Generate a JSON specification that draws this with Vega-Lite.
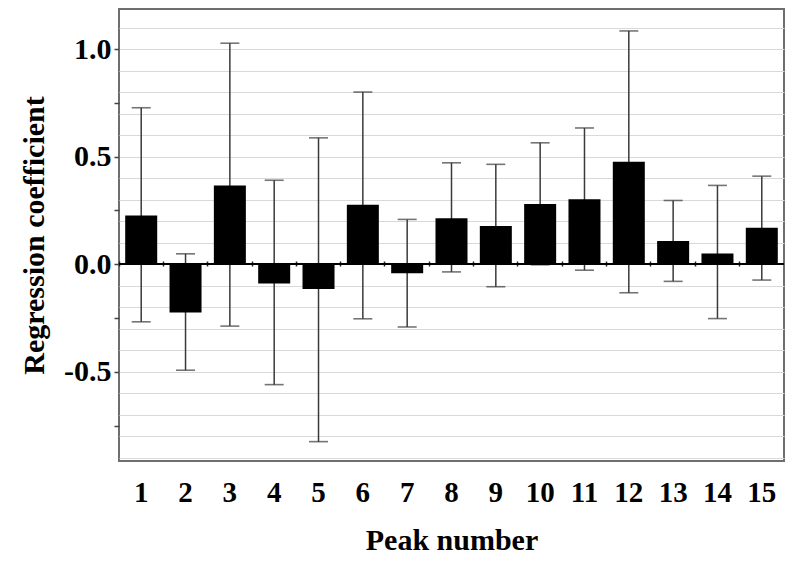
{
  "$schema": "https://vega.github.io/schema/vega-lite/v6.json",
  "width": 665,
  "height": 452,
  "autosize": {"type": "none"},
  "padding": {"left": 119, "top": 9, "right": 16, "bottom": 110},
  "background": "white",
  "config": {
    "view": {"stroke": "#6e6e6e", "strokeWidth": 2},
    "font": "Liberation Serif"
  },
  "data": {
    "values": [
      {"peak": "1", "coef": 0.226, "lo": -0.268, "hi": 0.727},
      {"peak": "2", "coef": -0.225, "lo": -0.493, "hi": 0.048},
      {"peak": "3", "coef": 0.366, "lo": -0.288, "hi": 1.027},
      {"peak": "4", "coef": -0.09, "lo": -0.56, "hi": 0.39},
      {"peak": "5", "coef": -0.116, "lo": -0.825, "hi": 0.587},
      {"peak": "6", "coef": 0.276, "lo": -0.254, "hi": 0.8},
      {"peak": "7", "coef": -0.042, "lo": -0.292, "hi": 0.208},
      {"peak": "8", "coef": 0.213, "lo": -0.036, "hi": 0.471},
      {"peak": "9", "coef": 0.177, "lo": -0.105, "hi": 0.464},
      {"peak": "10", "coef": 0.28, "lo": -0.003, "hi": 0.564},
      {"peak": "11", "coef": 0.302, "lo": -0.028, "hi": 0.633},
      {"peak": "12", "coef": 0.476, "lo": -0.133, "hi": 1.084},
      {"peak": "13", "coef": 0.108, "lo": -0.08, "hi": 0.296},
      {"peak": "14", "coef": 0.05, "lo": -0.253, "hi": 0.366},
      {"peak": "15", "coef": 0.169, "lo": -0.074, "hi": 0.409}
    ]
  },
  "resolve": {"axis": {"x": "independent", "y": "independent"}},
  "layer": [
    {
      "mark": {"type": "rule", "color": "#3a3a3a", "strokeWidth": 1.5},
      "encoding": {
        "x": {"field": "peak", "type": "ordinal", "sort": null,
              "scale": {"type": "band", "paddingInner": 0.278, "paddingOuter": 0.14},
              "axis": null},
        "y": {"field": "lo", "type": "quantitative",
              "scale": {"domain": [-0.915, 1.186], "nice": false, "zero": false},
              "axis": {"orient": "right", "values": [-0.9, -0.8, -0.7, -0.6, -0.5, -0.4, -0.3, -0.2, -0.1, 0.1, 0.2, 0.3, 0.4, 0.5, 0.6, 0.7, 0.8, 0.9, 1.0, 1.1],
                       "grid": true, "gridColor": "#d9d9d9", "gridWidth": 1.2, "gridOpacity": 1,
                       "labels": false, "ticks": false, "domain": false, "title": null}},
        "y2": {"field": "hi"}
      }
    },
    {
      "mark": {"type": "tick", "orient": "horizontal", "color": "#3a3a3a", "thickness": 1.6, "size": 19},
      "encoding": {
        "x": {"field": "peak", "type": "ordinal", "sort": null,
              "axis": {"orient": "top", "offset": -257, "bandPosition": -0.193, "labels": false, "domain": false,
                       "ticks": true, "tickSize": 5, "tickColor": "#222", "tickWidth": 1.5, "title": null, "grid": false}},
        "y": {"field": "hi", "type": "quantitative", "axis": null}
      }
    },
    {
      "mark": {"type": "tick", "orient": "horizontal", "color": "#3a3a3a", "thickness": 1.6, "size": 19},
      "encoding": {
        "x": {"field": "peak", "type": "ordinal", "sort": null, "axis": null},
        "y": {"field": "lo", "type": "quantitative", "axis": null}
      }
    },
    {
      "mark": {"type": "bar", "color": "#000000"},
      "encoding": {
        "x": {"field": "peak", "type": "ordinal", "sort": null,
              "axis": {"orient": "bottom", "labelAngle": 0, "labelFont": "Liberation Serif", "labelFontWeight": "bold",
                       "labelFontSize": 29, "labelColor": "#000", "labelPadding": 17, "ticks": false, "domain": false,
                       "title": "Peak number", "titleFont": "Liberation Serif", "titleFontWeight": "bold",
                       "titleFontSize": 30, "titleColor": "#000", "titlePadding": 18, "grid": false}},
        "y": {"field": "coef", "type": "quantitative",
              "axis": {"orient": "left", "values": [-0.75, -0.5, -0.25, 0, 0.25, 0.5, 0.75, 1.0],
                       "labelExpr": "datum.value % 0.5 == 0 ? (datum.value < 0 ? '-' + format(-datum.value, '.1f') : format(datum.value, '.1f')) : ''",
                       "labelFont": "Liberation Serif", "labelFontWeight": "bold", "labelFontSize": 30, "labelColor": "#000",
                       "labelPadding": 3, "tickSize": 5, "tickColor": "#444", "tickWidth": 1.5, "domain": false, "grid": false,
                       "title": "Regression coefficient", "titleFont": "Liberation Serif", "titleFontWeight": "bold",
                       "titleFontSize": 30, "titleColor": "#000", "titlePadding": 14}},
        "y2": {"datum": 0}
      }
    },
    {
      "mark": {"type": "rule", "color": "#000", "strokeWidth": 1.6},
      "encoding": {"y": {"datum": 0, "type": "quantitative", "axis": null}}
    }
  ]
}
